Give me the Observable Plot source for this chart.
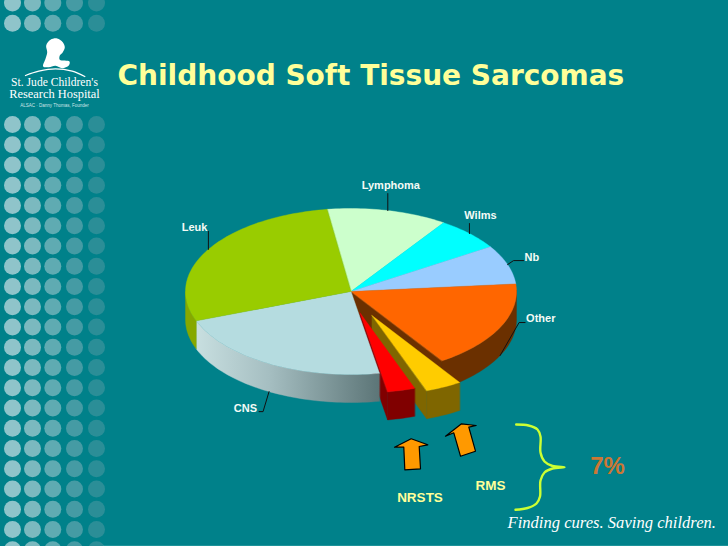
<!DOCTYPE html>
<html><head><meta charset="utf-8">
<style>html,body{margin:0;padding:0;background:#00818a}svg{display:block}</style>
<script src="https://cdn.jsdelivr.net/npm/d3@7"></script>
<script src="https://cdn.jsdelivr.net/npm/@observablehq/plot@0.6"></script>
</head><body><div id="chart"></div>
<script>
// Data, clockwise from the Lymphoma slice
const categories = ["Lymphoma","Wilms","Nb","Other","RMS","NRSTS","CNS","Leuk"];
const percents   = [11.75, 6.5, 7.6, 17.2, 3.7, 2.8, 22, 28.45];
const topColors  = ["#ccffcc","#00ffff","#99ccff","#ff6600","#ffcc00","#ff0000","#b5dce0","#99cc00"];
const sideColors = ["#a3cca3","#00cccc","#7aa3cc","#6b3000","#7f6600","#800000","url(#cnsSide)","#86a800"];
const explode    = [0,0,0,0,0.316,0.265,0,0];
const labelText  = ["Lymphoma","Wilms","Nb","Other","CNS","Leuk"];

// Layout of the 3-D pie
const cx = 350.5, cy = 291, rx = 165.5, ry = 83, depth = 28, startDeg = -8.3;
const rad = Math.PI/180;
const arcs = d3.pie().sort(null).startAngle(startDeg*rad).endAngle((startDeg+360)*rad)(percents);

function pieces(i){
  const a = arcs[i], ex = explode[i];
  const k = ex ? 0.965 : 1;
  const mid = (a.startAngle+a.endAngle)/2 + (ex ? 3*rad : 0);
  const ox = cx + ex*rx*Math.sin(mid), oy = cy - ex*ry*Math.cos(mid);
  const pt = (t,d=0)=>({x:ox+k*rx*Math.sin(t), y:oy-k*ry*Math.cos(t)+d});
  const n = Math.ceil((a.endAngle-a.startAngle)/(1.5*rad));
  const ts = d3.range(n+1).map(j=>a.startAngle+(a.endAngle-a.startAngle)*j/n);
  const top = [{x:ox,y:oy},...ts.map(t=>pt(t))];
  // outer side: the part of the rim that faces the viewer
  const fr = ts.filter(t=>Math.cos(t)<=0.02);
  const side = fr.length>1 ? [...fr.map(t=>pt(t)),...fr.slice().reverse().map(t=>pt(t,depth))] : null;
  // cut wall, where the next slice has been pulled away
  const e = a.endAngle;
  const wall = (ex || explode[i+1]) ? [{x:ox,y:oy},pt(e),pt(e,depth),{x:ox,y:oy+depth}] : null;
  return {top,side,wall};
}
const poly = (pts,color)=>Plot.line(pts,{x:"x",y:"y",fill:color,stroke:color,strokeWidth:0.4,curve:"linear-closed"});
const pieMarks = [];
categories.forEach((c,i)=>{
  const p = pieces(i);
  if (p.wall) pieMarks.push(poly(p.wall, sideColors[i]));
  if (p.side) pieMarks.push(poly(p.side, sideColors[i]));
  pieMarks.push(poly(p.top, topColors[i]));
});

// Leaders: start on the rim at the mid-angle of each slice
const leaderRoutes = {
  Lymphoma:{down:0, via:[[0,-17]],          tx:3,  ty:-25, anchor:"middle"},
  Wilms:   {down:0, via:[[0,-10]],          tx:11, ty:-18, anchor:"middle"},
  Nb:      {down:0, via:[[6,-4],[16,-4]],   tx:17, ty:-7,  anchor:"start"},
  Other:   {down:depth, via:[[19,-33],[25,-33]], tx:26, ty:-37, anchor:"start"},
  CNS:     {down:depth, via:[[-6,20],[-10,20]],  tx:-12,ty:17,  anchor:"end"},
  Leuk:    {down:0, via:[[0,-18]],          tx:-1, ty:-22, anchor:"end"}
};
const labelMarks = labelText.flatMap(name=>{
  const i = categories.indexOf(name), a = arcs[i], m=(a.startAngle+a.endAngle)/2;
  const r = leaderRoutes[name];
  const x0 = cx+rx*Math.sin(m), y0 = cy-ry*Math.cos(m)+r.down;
  const path = [{x:x0,y:y0},...r.via.map(([dx,dy])=>({x:x0+dx,y:y0+dy}))];
  return [
    Plot.line(path,{x:"x",y:"y",stroke:"#111",strokeWidth:1}),
    Plot.text([name],{x:()=>x0+r.tx,y:()=>y0+r.ty,text:d=>d,textAnchor:r.anchor,lineAnchor:"middle",
      fill:"#f4fbf6",fontFamily:"Liberation Sans",fontWeight:"bold",fontSize:11})
  ];
});

// Background dot pattern
const dotColumns = [12,32,52.3,74,96];
const dotFills = ["#8fc4ca","#7bb9bf","#5fabb2","#459ba4","#2b8e97"];
const dotRows = [...[-6,-5],...d3.range(0,22)].map(i=>124+i*20.25);
const dots = dotRows.flatMap(y=>dotColumns.map((x,c)=>({x,y,f:dotFills[c]})));

// Annotations
const arrowA = [[410.7,438.3],[427.3,444.3],[418.7,446],[420,468.3],[404.3,469.3],[403.3,446.7],[394,446.7]];
const arrowB = [[461,423.3],[475.7,425],[468.3,426.7],[475,450.7],[460,455.7],[453.3,432.3],[445,435.7]];
const bracePts = [[515.7,424],[528,425],[537,429],[540,436],[540,452],[544,461],[552,465.5],[564,466.7],[552,468],[544,472],[540,480],[539.5,496],[536,503],[527,507.5],[515,509.3]];
const silhouette = [[45.7,45],[50,39.3],[56.7,38],[62.3,41.7],[64.3,46.7],[62.3,51.7],[59.3,55],[59.3,59.3],[69,61],[68.3,65],[61.7,67.7],[55,65.3],[48.3,66.7],[42.7,66],[45,58.3],[46.7,51.7]];
const hillArc = [[25,75],[38.3,70.7],[55,68.3],[71.7,70.7],[84.3,76]];
const xy = a=>a.map(([x,y])=>({x,y}));

const txt = (s,x,y,o)=>Plot.text([s],{x:()=>x,y:()=>y,text:d=>d,lineAnchor:"middle",...o});

const chart = Plot.plot({
  width:728,height:546,marginTop:0,marginRight:0,marginBottom:0,marginLeft:0,
  x:{domain:[0,728],range:[0,728],axis:null},
  y:{domain:[0,546],range:[0,546],axis:null},
  style:{background:"#00818a"},
  marks:[
    ()=>{
      const d = d3.create("svg:defs");
      const g = d.append("linearGradient").attr("id","cnsSide");
      [[0,"#c8dfe0"],[0.4,"#a5bec1"],[1,"#5c7577"]].forEach(([o,c])=>g.append("stop").attr("offset",o).attr("stop-color",c));
      return d.node();
    },
    Plot.dot(dots,{x:"x",y:"y",r:8.5,fill:"f"}),
    Plot.ruleY([545.5],{x1:103,x2:728,stroke:"#3aa5ab",strokeWidth:1}),
    Plot.line(xy(silhouette),{x:"x",y:"y",fill:"#fff",stroke:"none",curve:"catmull-rom-closed"}),
    Plot.line(xy(hillArc),{x:"x",y:"y",stroke:"#fff",strokeWidth:1.3,curve:"catmull-rom"}),
    txt("St. Jude Children's",54,81.5,{fill:"#fff",fontFamily:"Liberation Serif",fontSize:11.6,textAnchor:"middle"}),
    txt("Research Hospital",54,94,{fill:"#fff",fontFamily:"Liberation Serif",fontSize:12.4,textAnchor:"middle"}),
    txt("ALSAC · Danny Thomas, Founder",54,105,{fill:"#cfe6e8",fontFamily:"Liberation Sans",fontSize:4.5,textAnchor:"middle"}),
    txt("Childhood Soft Tissue Sarcomas",117,76,{fill:"#ffff99",fontFamily:"DejaVu Sans",fontWeight:"bold",fontSize:28,textAnchor:"start"}),
    ...pieMarks,
    ...labelMarks,
    Plot.line(xy(arrowA),{x:"x",y:"y",fill:"#ff9900",stroke:"#000",strokeWidth:1.2,curve:"linear-closed"}),
    Plot.line(xy(arrowB),{x:"x",y:"y",fill:"#ff9900",stroke:"#000",strokeWidth:1.2,curve:"linear-closed"}),
    Plot.line(xy(bracePts),{x:"x",y:"y",stroke:"#ccff33",strokeWidth:2.4,curve:"catmull-rom"}),
    txt("7%",607,466,{fill:"#cc7733",fontFamily:"Liberation Sans",fontWeight:"bold",fontSize:24,textAnchor:"middle"}),
    txt("RMS",490,485,{fill:"#ffff99",fontFamily:"Liberation Sans",fontWeight:"bold",fontSize:13.5,textAnchor:"middle"}),
    txt("NRSTS",419.5,497,{fill:"#ffff99",fontFamily:"Liberation Sans",fontWeight:"bold",fontSize:13.5,textAnchor:"middle"}),
    txt("Finding cures. Saving children.",507,522,{fill:"#fff",fontFamily:"Liberation Serif",fontStyle:"italic",fontSize:16.6,textAnchor:"start"})
  ]
});
document.getElementById("chart").append(chart);
</script></body></html>
